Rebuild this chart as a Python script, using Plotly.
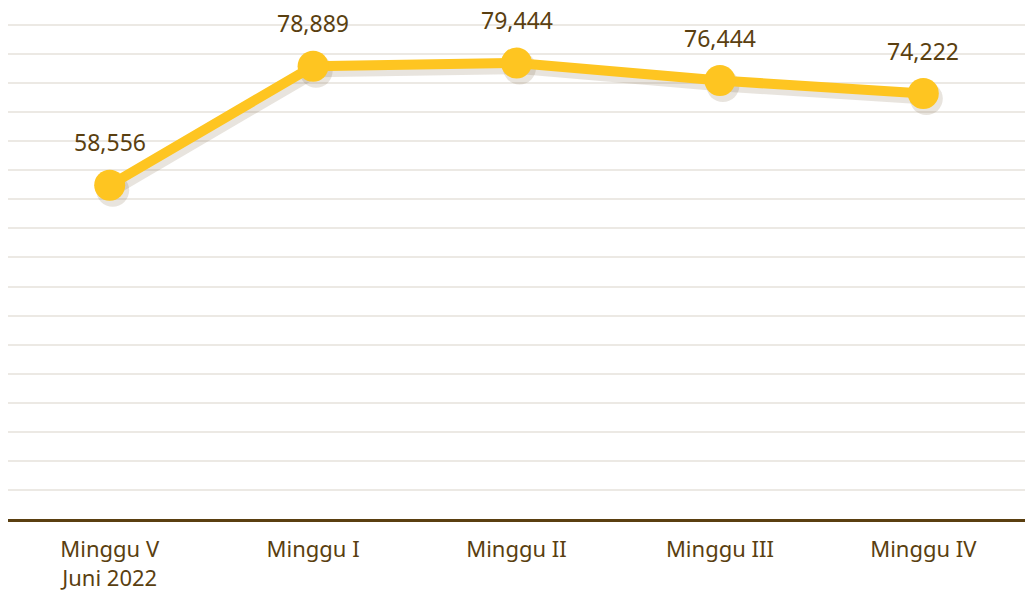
import plotly.graph_objects as go

categories = ["Minggu V<br>Juni 2022", "Minggu I", "Minggu II", "Minggu III", "Minggu IV"]
values = [58556, 78889, 79444, 76444, 74222]
labels = ["58,556", "78,889", "79,444", "76,444", "74,222"]

W, H = 1025, 591
ML, MR, MT, MB = 8, 0, 23, 72
Y0, Y1 = 1571, 85929
NGRID = 17
PAD_TOP = 342  # ~2 px of headroom above the top grid line

brown = "#5a3f10"
gold = "#FEC521"
font_family = "Noto Sans, Lato, sans-serif"

pw = W - ML - MR
ph = H - MT - MB
xpos = list(range(len(categories)))
sx = 3 * 5 / pw
sy = 5 * (Y1 + PAD_TOP - Y0) / ph

fig = go.Figure()

fig.add_trace(go.Scatter(
    x=[p + sx for p in xpos], y=[v - sy for v in values], mode="lines+markers",
    line=dict(color="rgba(110,90,50,0.16)", width=12),
    marker=dict(size=33, color="rgba(110,90,50,0.16)"),
    hoverinfo="skip", showlegend=False, cliponaxis=False,
))

fig.add_trace(go.Scatter(
    x=xpos, y=values, mode="lines+markers",
    line=dict(color=gold, width=10),
    marker=dict(size=31, color=gold),
    showlegend=False, cliponaxis=False,
))

for xp, v, t in zip(xpos, values, labels):
    fig.add_annotation(
        x=xp, y=v, text=t, showarrow=False, yshift=43,
        font=dict(size=23, color=brown, family=font_family),
    )

fig.update_layout(
    width=W, height=H,
    margin=dict(l=ML, r=MR, t=MT, b=MB),
    paper_bgcolor="white", plot_bgcolor="white",
    font=dict(family=font_family, color=brown, size=22),
    xaxis=dict(
        range=[-0.5, 4.5], tickvals=xpos, ticktext=categories,
        showgrid=False, showline=True, linecolor=brown, linewidth=2.5,
        ticks="", tickfont=dict(size=22, color=brown, family=font_family),
        ticklabelstandoff=9, zeroline=False, automargin=False,
    ),
    yaxis=dict(
        range=[Y0, Y1 + PAD_TOP], tick0=Y0, dtick=(Y1 - Y0) / NGRID,
        showgrid=True, gridcolor="#ECE9E4", gridwidth=2,
        showticklabels=False, zeroline=False, showline=False, ticks="",
        automargin=False,
    ),
)

fig.write_html("out.html")
